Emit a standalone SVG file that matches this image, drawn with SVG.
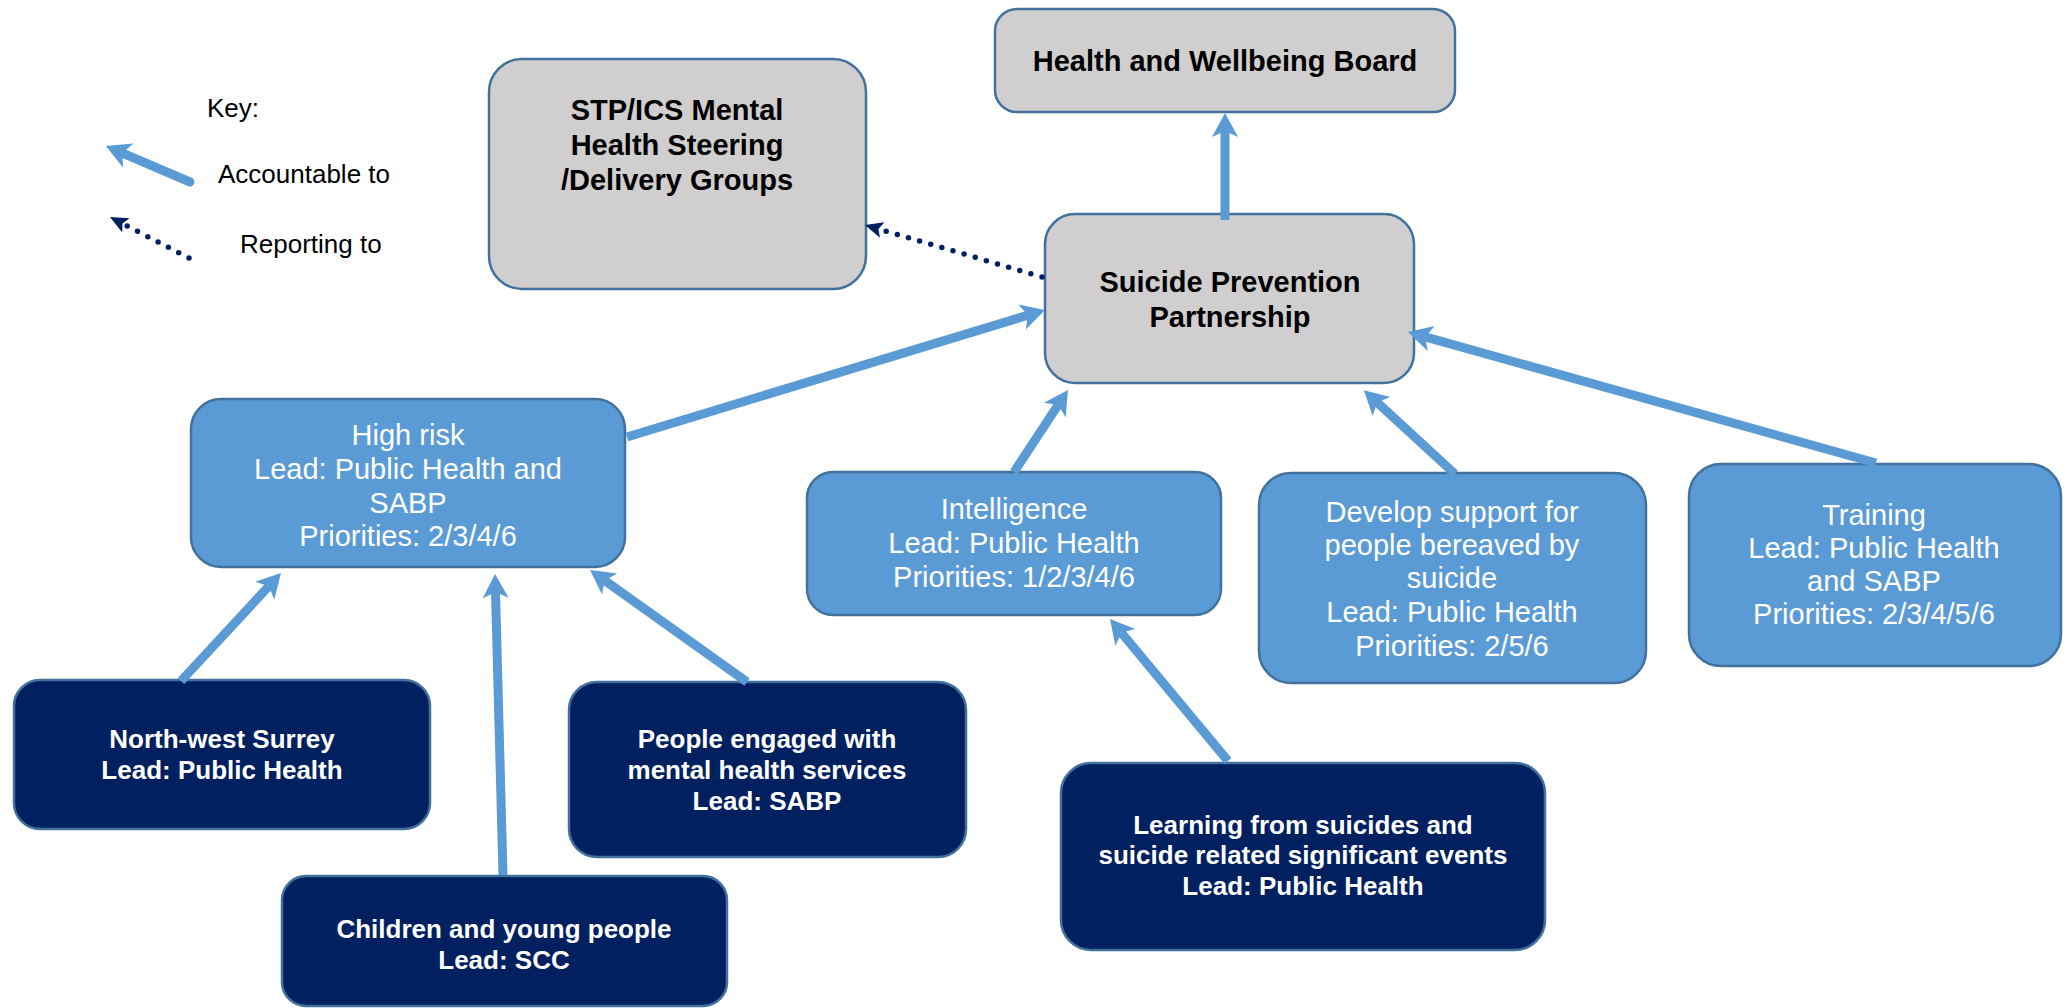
<svg xmlns="http://www.w3.org/2000/svg" width="2069" height="1008" viewBox="0 0 2069 1008">
<style>
text{font-family:"Liberation Sans",Arial,sans-serif;text-anchor:middle}
.grey rect{fill:#D0CECE;stroke:#41719C;stroke-width:2.5}
.blue rect{fill:#5B9BD5;stroke:#41719C;stroke-width:2.5}
.navy rect{fill:#002060;stroke:#41719C;stroke-width:2.5}
.grey text{font-size:29px;font-weight:bold;fill:#000}
.blue text{font-size:29px;fill:#fff}
.navy text{font-size:26px;font-weight:bold;fill:#fff}
.acc{stroke:#5B9BD5;stroke-width:9;fill:none;marker-end:url(#ah)}
.rep{stroke:#002060;stroke-width:5.5;fill:none;stroke-dasharray:0 11.6;stroke-linecap:round;marker-end:url(#dh)}
.key{font-size:26px;fill:#000;text-anchor:start}
</style>
<defs>
<marker id="ah" markerUnits="userSpaceOnUse" viewBox="0 -14 26 28" markerWidth="26" markerHeight="28" refX="6" refY="0" orient="auto">
<path d="M0,-13 L24,0 L0,13 L6,0 Z" fill="#5B9BD5"/>
</marker>
<marker id="dh" markerUnits="userSpaceOnUse" viewBox="0 -9 20 18" markerWidth="20" markerHeight="18" refX="4" refY="0" orient="auto">
<path d="M0,-8 L18,0 L0,8 L4,0 Z" fill="#002060"/>
</marker>
</defs>
<rect width="2069" height="1008" fill="#fff"/>

<g id="key">
<text class="key" x="207" y="117">Key:</text>
<text class="key" x="218" y="183">Accountable to</text>
<text class="key" x="240" y="253">Reporting to</text>
</g>

<g id="stp" class="grey">
<rect x="489" y="59" width="377" height="230" rx="33"/>
<text x="677" y="120">STP/ICS Mental</text>
<text x="677" y="155">Health Steering</text>
<text x="677" y="190">/Delivery Groups</text>
</g>
<g id="hwb" class="grey">
<rect x="995" y="9" width="460" height="103" rx="22"/>
<text x="1225" y="71">Health and Wellbeing Board</text>
</g>
<g id="spp" class="grey">
<rect x="1045" y="214" width="369" height="169" rx="30"/>
<text x="1230" y="292">Suicide Prevention</text>
<text x="1230" y="327">Partnership</text>
</g>
<g id="highrisk" class="blue">
<rect x="191" y="399" width="434" height="168" rx="30"/>
<text x="408" y="445">High risk</text>
<text x="408" y="479">Lead: Public Health and</text>
<text x="408" y="513">SABP</text>
<text x="408" y="546">Priorities: 2/3/4/6</text>
</g>
<g id="intelligence" class="blue">
<rect x="807" y="472" width="414" height="143" rx="26"/>
<text x="1014" y="519">Intelligence</text>
<text x="1014" y="553">Lead: Public Health</text>
<text x="1014" y="587">Priorities: 1/2/3/4/6</text>
</g>
<g id="bereaved" class="blue">
<rect x="1259" y="473" width="387" height="210" rx="32"/>
<text x="1452" y="522">Develop support for</text>
<text x="1452" y="555">people bereaved by</text>
<text x="1452" y="588">suicide</text>
<text x="1452" y="622">Lead: Public Health</text>
<text x="1452" y="656">Priorities: 2/5/6</text>
</g>
<g id="training" class="blue">
<rect x="1689" y="464" width="372" height="202" rx="32"/>
<text x="1874" y="525">Training</text>
<text x="1874" y="558">Lead: Public Health</text>
<text x="1874" y="591">and SABP</text>
<text x="1874" y="624">Priorities: 2/3/4/5/6</text>
</g>
<g id="northwest" class="navy">
<rect x="14" y="680" width="416" height="149" rx="26"/>
<text x="222" y="748">North-west Surrey</text>
<text x="222" y="779">Lead: Public Health</text>
</g>
<g id="people" class="navy">
<rect x="569" y="682" width="397" height="175" rx="28"/>
<text x="767" y="748">People engaged with</text>
<text x="767" y="779">mental health services</text>
<text x="767" y="810">Lead: SABP</text>
</g>
<g id="children" class="navy">
<rect x="282" y="876" width="445" height="130" rx="24"/>
<text x="504" y="938">Children and young people</text>
<text x="504" y="969">Lead: SCC</text>
</g>
<g id="learning" class="navy">
<rect x="1061" y="763" width="484" height="187" rx="30"/>
<text x="1303" y="834">Learning from suicides and</text>
<text x="1303" y="864">suicide related significant events</text>
<text x="1303" y="895">Lead: Public Health</text>
</g>

<g id="connectors">
<line class="acc" x1="1225" y1="220" x2="1225" y2="131"/>
<line class="acc" x1="627" y1="437" x2="1027.8" y2="315.2"/>
<line class="acc" x1="181" y1="681" x2="268.8" y2="586.2"/>
<line class="acc" x1="503" y1="875" x2="495.5" y2="592"/>
<line class="acc" x1="747" y1="682" x2="604.7" y2="580.5"/>
<line class="acc" x1="1014" y1="472" x2="1058.1" y2="405"/>
<line class="acc" x1="1455" y1="474" x2="1377.1" y2="402.4"/>
<line class="acc" x1="1876" y1="463" x2="1425.3" y2="336.9"/>
<line class="acc" x1="1228" y1="761" x2="1121.5" y2="632.8"/>
<line class="rep" x1="1042" y1="277" x2="878.4" y2="228.9"/>
<line class="acc" x1="190" y1="182" x2="122.5" y2="153.1" stroke-linecap="round"/>
<line class="rep" x1="189" y1="258" x2="122.4" y2="223.5"/>
</g>
</svg>
